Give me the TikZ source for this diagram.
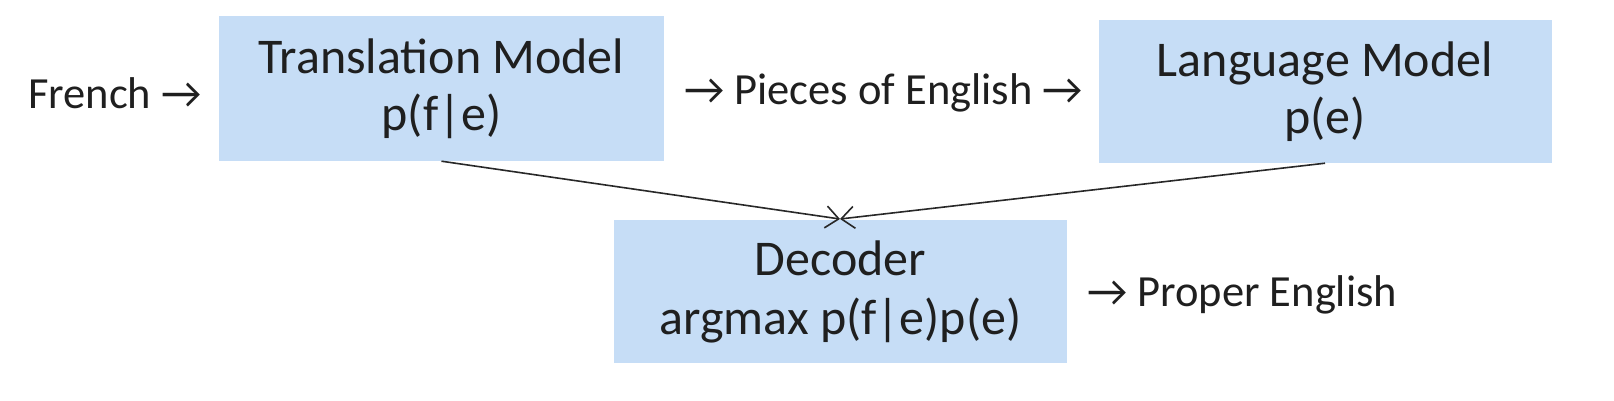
\documentclass[tikz,border=0pt]{standalone}
\usepackage{fontspec}
\setmainfont{Carlito}
\usetikzlibrary{arrows.meta}
\definecolor{boxblue}{RGB}{198,221,246}
\definecolor{linegray}{RGB}{40,40,40}
\begin{document}
\begin{tikzpicture}[x=1pt,y=-1pt,
  model/.style={fill=boxblue,draw=none,minimum width=453pt,minimum height=143pt,inner sep=0pt,align=center,font=\fontsize{50}{57}\selectfont,text=black!88},
  plain/.style={inner sep=0pt,font=\fontsize{44.5}{54}\selectfont,text=black!88},
  conn/.style={draw=linegray,line width=1.6pt,-{Straight Barb[length=13pt,width=22pt]}}]
\useasboundingbox (0,0) rectangle (1614,400);
\node[model,minimum width=445pt,minimum height=145pt] (tm) at (441.5,88.5) {Translation Model\\p(f|e)};
\node[model] (lm) at (1325,91.5) {Language Model\\p(e)};
\node[model,font=\fontsize{50}{59}\selectfont] (dec) at (840.5,291.5) {Decoder\\argmax p(f|e)p(e)};
\node[plain,anchor=west] (fr) at (28,93) {French →};
\node[plain,anchor=west] (pe) at (684,93) {→ Pieces of English →};
\node[plain,anchor=west] (pr) at (1087,295) {→ Proper English};
\coordinate (tip) at (840,219);
\draw[conn] (tm.south) -- (tip);
\draw[conn] (lm.south) -- (tip);
\end{tikzpicture}
\end{document}
